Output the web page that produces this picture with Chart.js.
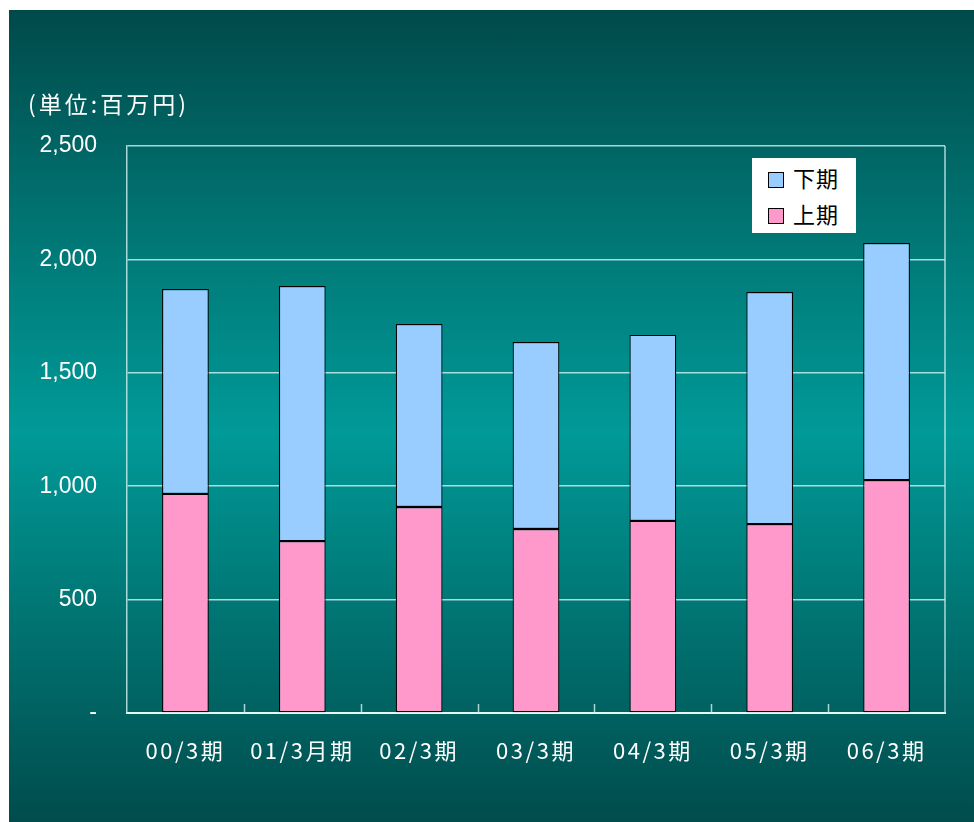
<!DOCTYPE html>
<html>
  <head>
    <title>売上推移</title>
    <script src="https://cdn.jsdelivr.net/npm/chart.js"></script>
    <style>
      body {
        margin: 0;
        background: #ffffff;
      }
      .panel {
        position: absolute;
        left: 9px;
        top: 10px;
        width: 965px;
        height: 812px;
        background: linear-gradient(to bottom, #004a4a 0%, #007a78 30%, #009a98 52%, #007472 75%, #004c4c 100%);
      }
      .wrap {
        position: absolute;
        left: 0;
        top: 0;
        width: 974px;
        height: 822px;
      }
      .unit {
        position: absolute;
        left: 28px;
        top: 86px;
        color: #ffffff;
        font-family: "Noto Sans CJK JP", sans-serif;
        font-size: 23px;
        letter-spacing: 3px;
      }
      .legend {
        position: absolute;
        left: 752px;
        top: 158px;
        width: 104px;
        height: 75px;
        background: #ffffff;
        font-family: "Noto Sans CJK JP", sans-serif;
        font-size: 22px;
        letter-spacing: 1px;
        color: #000;
      }
      .legend div {
        position: absolute;
        left: 16px;
        line-height: 26px;
      }
      .legend span {
        display: inline-block;
        width: 14px;
        height: 14px;
        border: 1px solid #000;
        margin-right: 9px;
        vertical-align: -1px;
      }
    </style>
  </head>
  <body>
    <div class="panel"></div>
    <div class="wrap"><canvas id="chart" width="974" height="822"></canvas></div>
    <div class="unit">(単位:百万円)</div>
    <div class="legend" id="legend"></div>

    <script>
      // 決算期
      var periods = ["00/3期", "01/3月期", "02/3期", "03/3期", "04/3期", "05/3期", "06/3期"];
      // 上期・下期 (百万円)
      var firstHalf = [966, 758, 908, 811, 847, 833, 1027];
      var secondHalf = [903, 1125, 807, 825, 820, 1023, 1045];
      var yTicks = [0, 500, 1000, 1500, 2000, 2500];

      var lineColor = "rgba(200, 235, 235, 0.85)";

      // 右枠と内向きの目盛り、横軸ラベルの字間
      var framePlugin = {
        id: "frame",
        beforeDraw: function (chart) {
          var s = chart.scales.x;
          if (!s._spaced) {
            var orig = s.drawLabels;
            s.drawLabels = function (a) {
              chart.ctx.save();
              chart.ctx.letterSpacing = "2.5px";
              orig.call(this, a);
              chart.ctx.restore();
            };
            s._spaced = true;
          }
        },
        afterDatasetsDraw: function (chart) {
          var ctx = chart.ctx;
          var area = chart.chartArea;
          var x = chart.scales.x;
          ctx.save();
          ctx.strokeStyle = lineColor;
          ctx.lineWidth = 1.5;
          ctx.beginPath();
          ctx.moveTo(area.right, area.top);
          ctx.lineTo(area.right, area.bottom);
          for (var i = 1; i < periods.length; i++) {
            var px = Math.round(x.getPixelForValue(i - 0.5)) + 0.5;
            ctx.moveTo(px, area.bottom);
            ctx.lineTo(px, area.bottom - 9);
          }
          ctx.stroke();
          ctx.restore();
        },
      };

      var chart = new Chart(document.getElementById("chart"), {
        type: "bar",
        data: {
          labels: periods,
          datasets: [
            {
              label: "上期",
              data: firstHalf,
              backgroundColor: "#ff99cc",
              borderColor: "#000000",
              borderWidth: 1.2,
              borderSkipped: false,
            },
            {
              label: "下期",
              data: secondHalf,
              backgroundColor: "#99ccff",
              borderColor: "#000000",
              borderWidth: 1.2,
              borderSkipped: false,
            },
          ],
        },
        options: {
          responsive: false,
          animation: false,
          layout: { padding: { top: 146, right: 29, bottom: 0, left: 0 } },
          datasets: { bar: { categoryPercentage: 1, barPercentage: 0.4 } },
          plugins: { legend: { display: false }, tooltip: { enabled: false } },
          scales: {
            x: {
              stacked: true,
              grid: { display: false },
              border: { display: true, color: "#e8f6f6", width: 2 },
              ticks: {
                color: "#ffffff",
                padding: 16,
                maxRotation: 0,
                font: { family: "'Noto Sans CJK JP', sans-serif", size: 22 },
              },
              afterFit: function (scale) {
                scale.height = 109;
              },
            },
            y: {
              stacked: true,
              min: 0,
              max: 2500,
              afterBuildTicks: function (scale) {
                scale.ticks = yTicks.map(function (v) {
                  return { value: v };
                });
              },
              grid: { color: lineColor, lineWidth: 1.5, drawTicks: false },
              border: { display: true, color: lineColor, width: 1.5 },
              ticks: {
                color: "#ffffff",
                padding: 30,
                font: { family: "'Liberation Sans', Arial, sans-serif", size: 23 },
                callback: function (v) {
                  return v === 0 ? "-" : v.toLocaleString("en-US");
                },
              },
              afterFit: function (scale) {
                scale.width = 127;
              },
            },
          },
        },
        plugins: [framePlugin],
      });

      // 凡例 (下期が上)
      var legend = document.getElementById("legend");
      chart.data.datasets
        .slice()
        .reverse()
        .forEach(function (ds, i) {
          var item = document.createElement("div");
          item.style.top = 6 + i * 36 + "px";
          item.innerHTML = '<span style="background:' + ds.backgroundColor + '"></span>' + ds.label;
          legend.appendChild(item);
        });
    </script>
  </body>
</html>
